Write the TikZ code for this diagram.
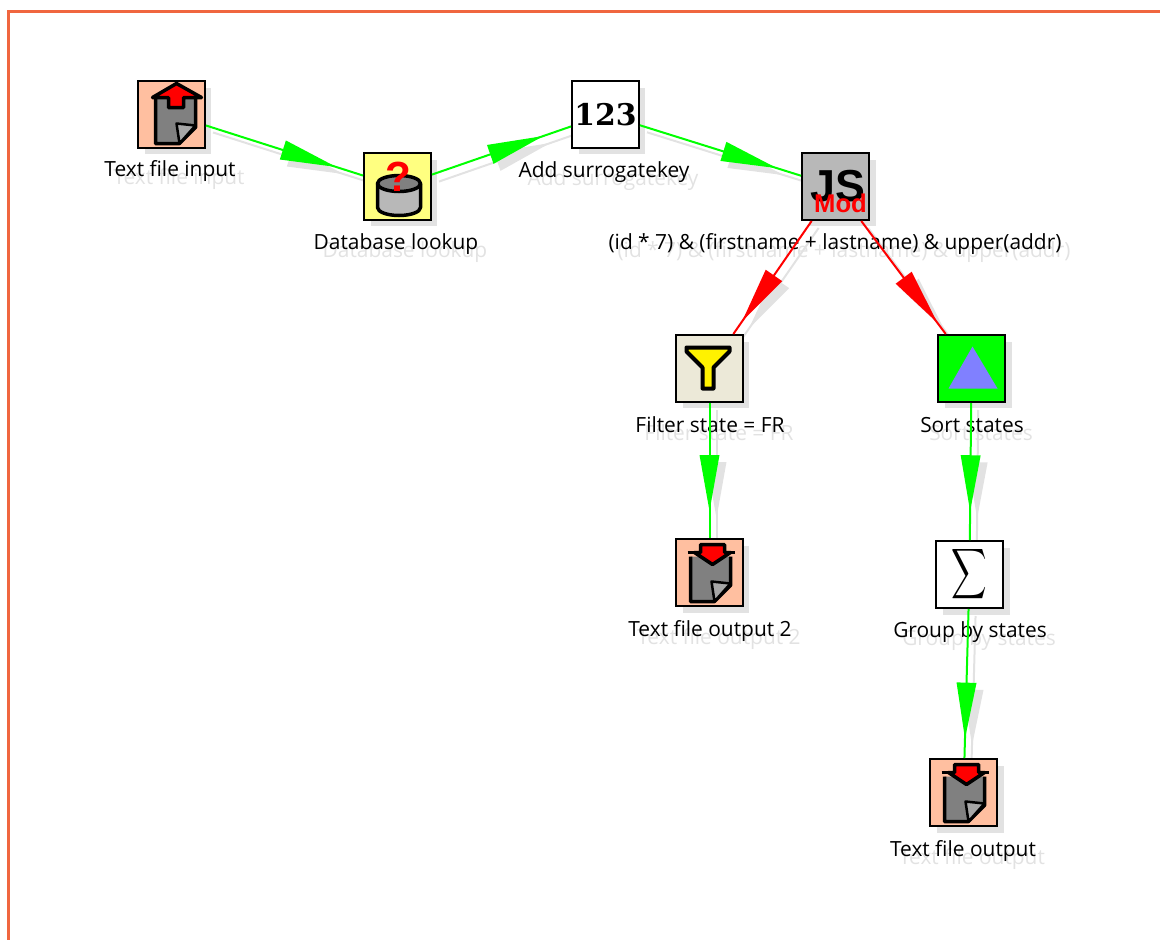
\documentclass[tikz,border=0pt]{standalone}
\usepackage{fontspec}
\setmainfont{Open Sans}
\newfontfamily\numfont{DejaVu Serif}
\newfontfamily\jsfont{Liberation Sans}
\usetikzlibrary{positioning, calc, shadows, backgrounds, decorations.markings}

\definecolor{flowgreen}{HTML}{00FF00}
\definecolor{flowred}{HTML}{FF0000}
\definecolor{filesalmon}{HTML}{FFBFA0}
\definecolor{dbyellow}{HTML}{FFFF80}
\definecolor{jsgray}{HTML}{B8B8B8}
\definecolor{filterbeige}{HTML}{ECE9D8}
\definecolor{sortblue}{HTML}{8080FF}
\definecolor{framered}{HTML}{F0663F}
\definecolor{softgray}{HTML}{E2E2E2}
\definecolor{iconbody}{HTML}{808080}

\tikzset{
	stepbox/.style={draw=black, line width=.04cm, minimum size=1.34cm, inner sep=0pt,
		copy shadow={draw=none, fill=softgray, shadow xshift=.13cm, shadow yshift=-.13cm}},
	steptext/.style={font=\fontsize{11.9}{13}\selectfont, text=black, inner sep=0pt},
	ghosttext/.style={steptext, text=softgray},
	hop/.style 2 args={draw=#1, line width=.04cm, decoration={markings, mark=at position #2 with
		{\fill[#1] (0,0) -- (-1.12cm,.2cm) -- (-1.12cm,-.2cm) -- cycle;}}, postaction={decorate}},
	iconline/.style={draw=black, line width=.07cm, line join=round},
	pics/filebody/.style={code={
		\fill[iconbody] (-19,-16) -- (21,-16) -- (21,13) -- (5,29) -- (-19,29) -- cycle;
		\draw[iconline] (-19,-16) -- (-19,29) -- (5,29) -- (21,13) -- (21,-16);
		\draw[iconline, line width=.05cm, fill=iconbody!70!white] (5,29) -- (2,9) -- (21,11) -- cycle;
	}},
	pics/fileup/.style={code={
		\pic at (3,0) {filebody};
		\draw[iconline, fill=flowred] (5,-31) -- (30,-17) -- (12,-17) -- (12,-7) -- (-3,-7) -- (-3,-17) -- (-19,-17) -- cycle;
	}},
	pics/filedown/.style={code={
		\pic at (0,0) {filebody};
		\draw[iconline, line width=.05cm] (-22,-20) -- (25,-20);
		\draw[iconline, fill=flowred] (-9,-28) -- (15,-28) -- (15,-20) -- (21,-20) -- (3,-8) -- (-15,-20) -- (-9,-20) -- cycle;
	}},
}

\newcommand{\steplabel}[3]{
	\node[ghosttext] (#1ghost) at ($(#2)+(9,8)$) {#3};
	\node[steptext] (#1text) at (#2) {#3};
}

\begin{document}
\begin{tikzpicture}[x=.02cm, y=-.02cm]
	\useasboundingbox (0,0) rectangle (1160,940);
	\draw[framered, line width=.07cm] (8.5,940) -- (8.5,11.5) -- (1160,11.5);

	\node[stepbox, fill=filesalmon]		(input)		at (171.5,114.5)	{};
	\node[stepbox, fill=dbyellow]		(lookup)	at (397.5,186.5)	{};
	\node[stepbox, fill=white, font=\numfont\bfseries\fontsize{17}{17}\selectfont]	(surrogate)	at (605.5,114.5)	{123};
	\node[stepbox, fill=jsgray]			(jsmod)		at (835.5,186.5)	{};
	\node[stepbox, fill=filterbeige]	(filter)	at (709.5,368.5)	{};
	\node[stepbox, fill=flowgreen]		(sort)		at (971.5,368.5)	{};
	\node[stepbox, fill=filesalmon]		(output2)	at (709.5,572.5)	{};
	\node[stepbox, fill=white]			(group)		at (969.5,574.5)	{\scalebox{1.4}[2]{$\displaystyle\sum$}};
	\node[stepbox, fill=filesalmon]		(output)	at (963.5,792.5)	{};

	%Icons:
	\pic at (input) {fileup};
	\pic at (output2) {filedown};
	\pic at (output) {filedown};
	\fill[jsgray] ($(lookup)+(-20,-3)$) -- ++(0,24) arc[start angle=180, end angle=360, x radius=21.5, y radius=-8] -- ++(0,-24) -- cycle;
	\draw[iconline] ($(lookup)+(-20,-3)$) -- ++(0,24) arc[start angle=180, end angle=360, x radius=21.5, y radius=-8] -- ++(0,-24);
	\draw[iconline, fill=iconbody] ($(lookup)+(1.5,-3)$) ellipse[x radius=21.5, y radius=8];
	\node[text=flowred, font=\jsfont\bfseries\fontsize{24}{24}\selectfont, inner sep=0pt] (lookupmark) at ($(lookup)+(1,-10)$) {?};
	\node[font=\jsfont\bfseries\fontsize{25.5}{26}\selectfont, inner sep=0pt] (jsword) at ($(jsmod)+(2,0)$) {JS};
	\node[text=flowred, font=\jsfont\bfseries\fontsize{14.6}{15}\selectfont, inner sep=0pt] (modword) at ($(jsmod)+(5,17)$) {Mod};
	\draw[iconline, line width=.08cm, fill=yellow] ($(filter)+(-23,-21)$) -- ++(43,0) -- ++(0,4) -- ++(-16,16) -- ++(0,21) -- ++(-11,0) -- ++(0,-21) -- ++(-16,-16) -- cycle;
	\fill[sortblue] ($(sort)+(1,-22)$) -- ++(25,42) -- ++(-49,0) -- cycle;

	\steplabel{input}{170,171}{Text file input}
	\steplabel{lookup}{396,244}{Database lookup}
	\steplabel{surrogate}{604,172}{Add surrogatekey}
	\steplabel{jsmod}{835,244}{(id * 7) \& (firstname + lastname) \& upper(addr)}
	\steplabel{filter}{710,425}{Filter state = FR}
	\steplabel{sort}{972,425}{Sort states}
	\steplabel{output2}{710,631}{Text file output 2}
	\steplabel{group}{970,632}{Group by states}
	\steplabel{output}{963,851}{Text file output}

	%Hops:
	\begin{scope}[on background layer]
		\begin{scope}[transform canvas={xshift=.14cm, yshift=-.14cm}]
			\path
			(input)		edge [hop={softgray}{.83}]	(lookup)
			(lookup)	edge [hop={softgray}{.80}]	(surrogate)
			(surrogate)	edge [hop={softgray}{.85}]	(jsmod)
			(jsmod)		edge [hop={softgray}{.89}]	(filter)
			(jsmod)		edge [hop={softgray}{.90}]	(sort)
			(filter)	edge [hop={softgray}{.80}]	(output2)
			(sort)		edge [hop={softgray}{.79}]	(group)
			(group)		edge [hop={softgray}{.87}]	(output);
		\end{scope}
	\end{scope}
	\path
	(input)		edge [hop={flowgreen}{.83}]	(lookup)
	(lookup)	edge [hop={flowgreen}{.80}]	(surrogate)
	(surrogate)	edge [hop={flowgreen}{.85}]	(jsmod)
	(jsmod)		edge [hop={flowred}{.89}]	(filter)
	(jsmod)		edge [hop={flowred}{.90}]	(sort)
	(filter)	edge [hop={flowgreen}{.80}]	(output2)
	(sort)		edge [hop={flowgreen}{.79}]	(group)
	(group)		edge [hop={flowgreen}{.87}]	(output);
\end{tikzpicture}
\end{document}
